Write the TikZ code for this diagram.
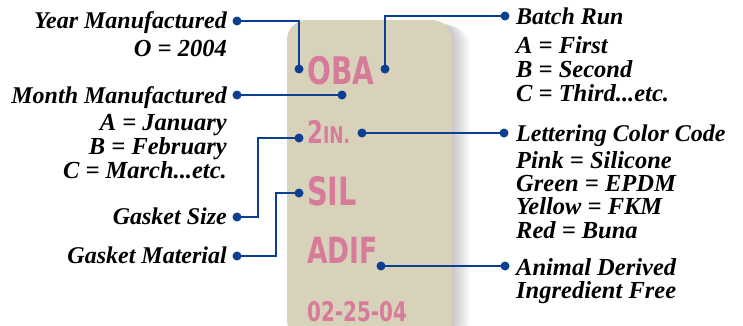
\documentclass[tikz,border=0pt]{standalone}
\usepackage{fontspec}
\setmainfont{Liberation Serif}
\newfontfamily\tabfont{DejaVu Sans Condensed}
\usepackage{tikz}
\usetikzlibrary{calc,positioning}
\definecolor{azul}{HTML}{0B3F91}
\definecolor{beige}{HTML}{D8D2BB}
\definecolor{rosa}{HTML}{D67B99}

\begin{document}
\begin{tikzpicture}[x=1pt,y=-1pt,>=latex,
    punto/.style={circle,fill=azul,inner sep=0pt,minimum size=9pt},
    enlace/.style={draw=azul,line width=1.3pt},
    titulo/.style={font=\fontsize{24}{24}\selectfont\bfseries\itshape,inner sep=0pt},
    lista/.style={font=\fontsize{24.5}{24}\selectfont\bfseries\itshape,inner sep=0pt},
    marca/.style={text=rosa,font=\tabfont\bfseries,inner sep=0pt,anchor=base west}]

  % Ventana
  \useasboundingbox (0,0) rectangle (743,325);

  % Pestaña con sombra
  \foreach \s in {1,...,12} {
    \fill[black,opacity=0.018,rounded corners=20pt] (287+\s*1.5,20+\s*0.5) rectangle (452+\s*1.5,340);
  }
  \fill[beige,rounded corners=20pt] (287,20) rectangle (452,340);

  % Texto impreso
  \node[marca] (oba) at (307,84) {\fontsize{38}{38}\selectfont\scalebox{0.82}[1]{OBA}};
  \node[marca] (dos) at (307,143) {\fontsize{31}{31}\selectfont\scalebox{0.82}[1]{2\fontsize{23}{23}\selectfont IN.}};
  \node[marca] (sil) at (307,205) {\fontsize{39}{39}\selectfont\scalebox{0.82}[1]{SIL}};
  \node[marca] (adif) at (307,263) {\fontsize{36}{36}\selectfont\scalebox{0.82}[1]{ADIF}};
  \node[marca] (fecha) at (307,321) {\fontsize{27}{27}\selectfont\scalebox{0.82}[1]{02-25-04}};

  % Puntos
  \node[punto] (pYa) at (237,21) {};
  \node[punto] (pYb) at (299,69) {};
  \node[punto] (pBa) at (385,69) {};
  \node[punto] (pBb) at (505,16) {};
  \node[punto] (pMa) at (237,95) {};
  \node[punto] (pMb) at (342,95) {};
  \node[punto] (pLa) at (362,133) {};
  \node[punto] (pLb) at (504,133) {};
  \node[punto] (pSa) at (237,217) {};
  \node[punto] (pSb) at (299,138) {};
  \node[punto] (pGa) at (237,256) {};
  \node[punto] (pGb) at (299,193) {};
  \node[punto] (pAa) at (381,266) {};
  \node[punto] (pAb) at (505,266) {};

  % Enlaces
  \draw[enlace] (pYa.center) -| (pYb.center);
  \draw[enlace] (pBa.center) |- (pBb.center);
  \draw[enlace] (pMa.center) -- (pMb.center);
  \draw[enlace] (pLa.center) -- (pLb.center);
  \draw[enlace] (pSa.center) -- ++(21,0) |- (pSb.center);
  \draw[enlace] (pGa.center) -- ++(39,0) |- (pGb.center);
  \draw[enlace] (pAa.center) -- (pAb.center);

  % Etiquetas izquierda (base = ultima linea)
  \node[titulo,anchor=base east] (tY) at (227,28) {Year Manufactured};
  \node[lista,anchor=base east,align=right] (lY) at (227,56) {O = 2004};
  \node[titulo,anchor=base east] (tM) at (227,103) {Month Manufactured};
  \node[lista,anchor=base east,align=right] (lM) at (227,178) {A = January\\B = February\\C = March...etc.};
  \node[titulo,anchor=base east] (tS) at (227,224) {Gasket Size};
  \node[titulo,anchor=base east] (tG) at (227,263) {Gasket Material};

  % Etiquetas derecha
  \node[titulo,anchor=base west] (tB) at (516,24) {Batch Run};
  \node[lista,anchor=base west,align=left] (lB) at (516,101) {A = First\\B = Second\\C = Third...etc.};
  \node[titulo,anchor=base west] (tL) at (516,141) {Lettering Color Code};
  \node[lista,anchor=base west,align=left,font=\fontsize{24.5}{23.3}\selectfont\bfseries\itshape] (lL) at (516,238) {Pink = Silicone\\Green = EPDM\\Yellow = FKM\\Red = Buna};
  \node[lista,anchor=base west,align=left,font=\fontsize{24.5}{23}\selectfont\bfseries\itshape] (tA) at (516,298) {Animal Derived\\Ingredient Free};

\end{tikzpicture}
\end{document}
